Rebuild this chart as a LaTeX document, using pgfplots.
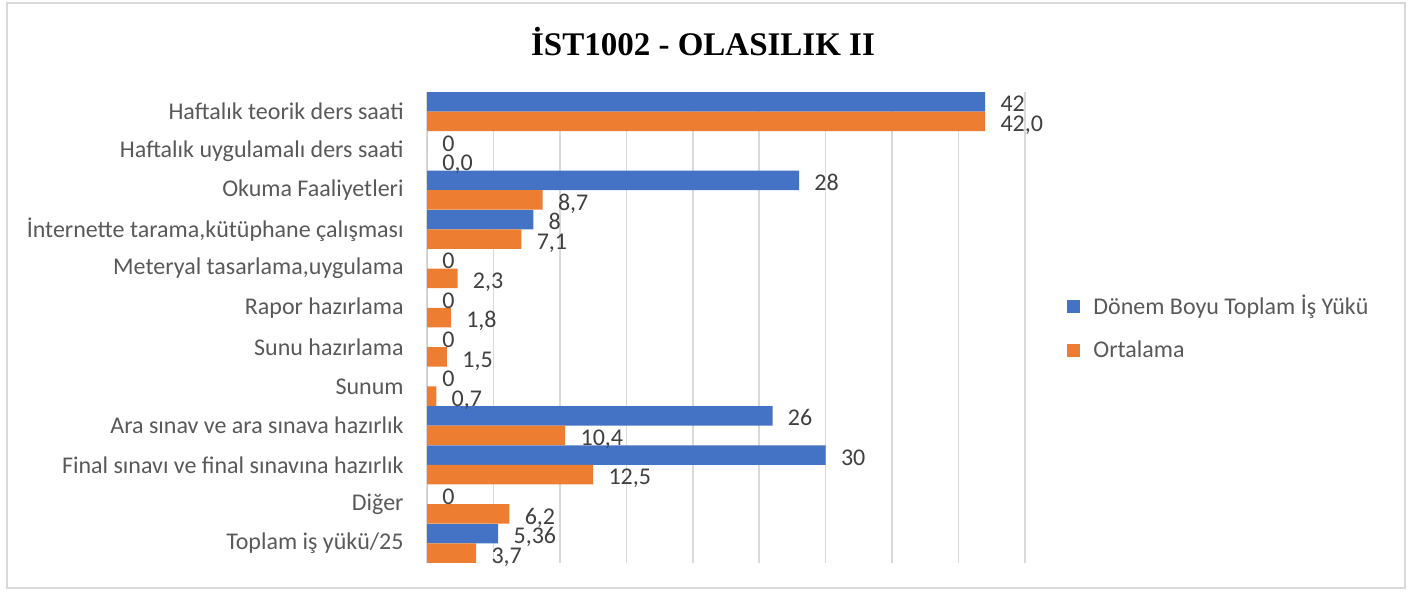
\documentclass[border=0pt]{standalone}
\usepackage{pgfplots}
\pgfplotsset{compat=1.18}
\usepackage{pgfplotstable}
\usepackage{fontspec}
\setmainfont{Carlito}
\newfontfamily\titlefont{Liberation Serif}
\definecolor{cblue}{HTML}{4472C4}
\definecolor{corange}{HTML}{ED7D31}
\definecolor{cgrid}{HTML}{D9D9D9}
\definecolor{clab}{HTML}{595959}
\definecolor{cdat}{HTML}{404040}

\pgfplotstableread{
y x lab
11 42 42
10 0 0
9 28 28
8 8 8
7 0 0
6 0 0
5 0 0
4 0 0
3 26 26
2 30 30
1 0 0
0 5.36 5,36
}\blueT

\pgfplotstableread{
y x lab
11 42.0 42,0
10 0.0 0,0
9 8.7 8,7
8 7.1 7,1
7 2.3 2,3
6 1.8 1,8
5 1.5 1,5
4 0.7 0,7
3 10.4 10,4
2 12.5 12,5
1 6.2 6,2
0 3.7 3,7
}\orangeT

\begin{document}
\begin{tikzpicture}
\useasboundingbox (0,0) rectangle (706bp,296bp);
\draw[cgrid, line width=0.75bp] (3.5bp,2bp) rectangle (702.5bp,294.5bp);
\node[font=\titlefont\bfseries\fontsize{16.5bp}{20bp}\selectfont, text=black] at (351.5bp,275bp) {İST1002 - OLASILIK II};
\begin{axis}[
  at={(213.5bp,14.5bp)}, anchor=south west,
  scale only axis, width=299bp, height=235.5bp,
  xbar, bar width=9.8bp,
  xmin=0, xmax=45, ymin=-0.5, ymax=11.5,
  axis line style={draw=none},
  tick style={draw=none}, major tick length=0pt,
  xtick={0,5,...,45}, xticklabels={},
  xmajorgrids, grid style={cgrid, line width=0.75bp},
  ytick={0,...,11},
  yticklabels={Toplam iş yükü/25, Diğer, Final sınavı ve final sınavına hazırlık, Ara sınav ve ara sınava hazırlık, Sunum, Sunu hazırlama, Rapor hazırlama, {Meteryal tasarlama,uygulama}, {İnternette tarama,kütüphane çalışması}, Okuma Faaliyetleri, Haftalık uygulamalı ders saati, Haftalık teorik ders saati},
  yticklabel style={font=\fontsize{12bp}{14bp}\selectfont, text=clab, inner sep=0pt, xshift=-11.5bp},
  nodes near coords, point meta=explicit symbolic,
  nodes near coords style={font=\fontsize{12bp}{14bp}\selectfont, text=cdat, anchor=west, inner sep=0pt,
    text height=7.6bp, text depth=0pt, xshift=7.5bp, yshift=-1.25bp},
  legend style={at={(1.0702,0.5)}, anchor=west, draw=none, fill=none, inner sep=0pt,
    font=\fontsize{12bp}{14bp}\selectfont, text=clab,
    nodes={inner sep=0pt}, /tikz/column sep=6.5bp, /tikz/row sep=11.5bp},
  legend cell align=left,
  legend image code/.code={\fill[#1] (0bp,-3.25bp) rectangle (6.5bp,3.25bp);},
]
\addplot[fill=cblue, draw=none, bar shift=4.9bp] table[x=x, y=y, meta=lab] {\blueT};
\addlegendentry{Dönem Boyu Toplam İş Yükü}
\addplot[fill=corange, draw=none, bar shift=-4.9bp] table[x=x, y=y, meta=lab] {\orangeT};
\addlegendentry{Ortalama}
\end{axis}
\end{tikzpicture}
\end{document}
